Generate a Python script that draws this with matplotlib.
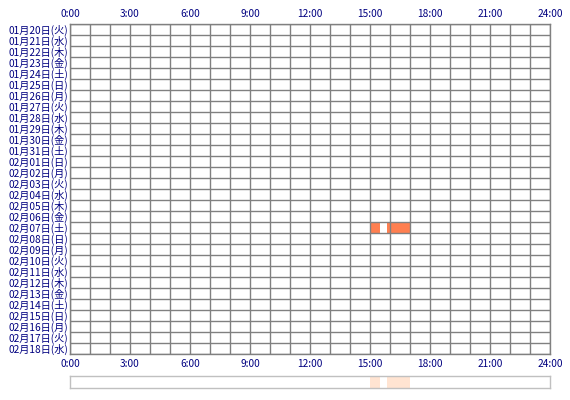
import matplotlib
matplotlib.use('Agg')
import matplotlib.pyplot as plt

plt.rcParams['font.family'] = ['Noto Sans CJK JP', 'DejaVu Sans']

days = ['01月20日(火)', '01月21日(水)', '01月22日(木)', '01月23日(金)', '01月24日(土)',
        '01月25日(日)', '01月26日(月)', '01月27日(火)', '01月28日(水)', '01月29日(木)',
        '01月30日(金)', '01月31日(土)', '02月01日(日)', '02月02日(月)', '02月03日(火)',
        '02月04日(水)', '02月05日(木)', '02月06日(金)', '02月07日(土)', '02月08日(日)',
        '02月09日(月)', '02月10日(火)', '02月11日(水)', '02月12日(木)', '02月13日(金)',
        '02月14日(土)', '02月15日(日)', '02月16日(月)', '02月17日(火)', '02月18日(水)']

# activity: day label, start hour, end hour
act_day = ['02月07日(土)', '02月07日(土)']
act_start = [15.0, 15.83]
act_end = [15.5, 17.0]

hour_ticks = [0, 3, 6, 9, 12, 15, 18, 21, 24]
hour_labels = ['0:00', '3:00', '6:00', '9:00', '12:00', '15:00', '18:00', '21:00', '24:00']

navy = '#000080'
grid_c = '#808080'

fig = plt.figure(figsize=(5.7, 4.0), dpi=100)
ax = fig.add_axes([70/570, 1-354/400, 480/570, 330/400])

for d, s, e in zip(act_day, act_start, act_end):
    i = days.index(d)
    ax.barh(i, e - s, left=s, height=1.0, color='#ff7f50', zorder=1)

ax.set_xlim(0, 24)
ax.set_ylim(len(days) - 0.5, -0.5)
for h in range(25):
    ax.axvline(h, color=grid_c, lw=1.0, zorder=2)
for r in range(len(days) + 1):
    ax.axhline(r - 0.5, color=grid_c, lw=1.0, zorder=2)
for sp in ax.spines.values():
    sp.set_color(grid_c)
    sp.set_linewidth(1.0)

ax.set_yticks(range(len(days)))
ax.set_yticklabels(days, color=navy, fontsize=7.3)
ax.set_xticks(hour_ticks)
ax.set_xticklabels(hour_labels, color=navy, fontsize=7.3)
ax.tick_params(length=0)
ax.tick_params(axis='y', pad=1.5)
ax.tick_params(axis='x', top=True, labeltop=True, pad=3.5)

# summary strip
ax2 = fig.add_axes([70/570, 1-388/400, 480/570, 12/400])
for s, e in zip(act_start, act_end):
    ax2.barh(0, e - s, left=s, height=1.0, color='#ffe4d2')
ax2.set_xlim(0, 24)
ax2.set_ylim(-0.5, 0.5)
ax2.set_xticks([])
ax2.set_yticks([])
for sp in ax2.spines.values():
    sp.set_color('#c0c0c0')
    sp.set_linewidth(1.0)

plt.savefig('out.png', dpi=100)
plt.close()
